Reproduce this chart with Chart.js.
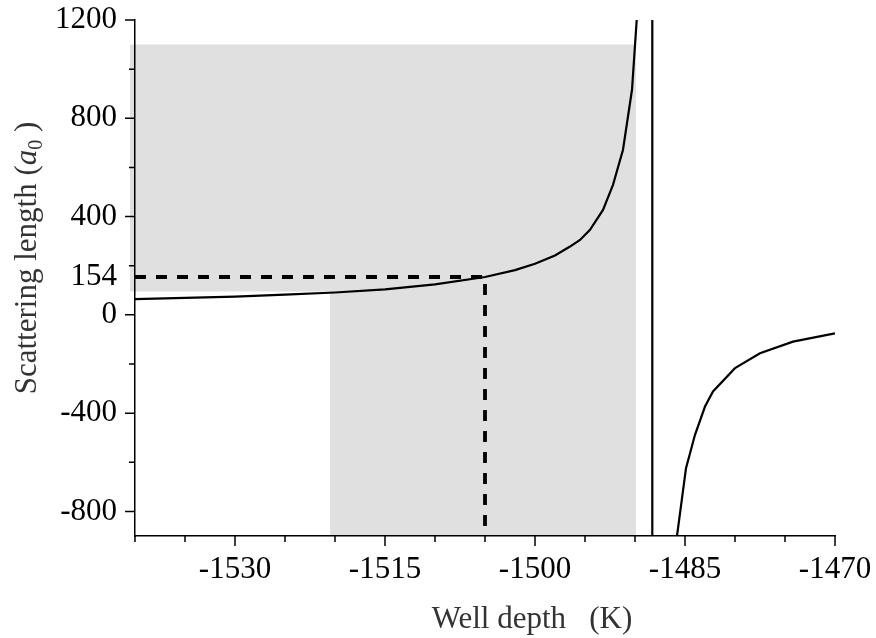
<!DOCTYPE html>
<html>
<head>
<meta charset="utf-8">
<script src="https://cdn.jsdelivr.net/npm/chart.js@4.4.1/dist/chart.umd.min.js"></script>
<style>
  html, body { margin: 0; padding: 0; background: #fff; }
  #wrap { width: 876px; height: 638px; }
</style>
</head>
<body>
<div id="wrap"><canvas id="chart" width="876" height="638"></canvas></div>
<script>
// values (well depth in K, scattering length in a0)
const leftDepth = [-1540, -1535, -1530, -1525, -1520, -1515, -1510, -1505, -1502, -1500, -1498, -1496.5, -1495.5, -1494.5, -1493.2, -1492.2, -1491.2, -1490.3, -1489.83, -1489.6];
const leftLength = [64, 69, 74, 82, 91, 104, 124, 154, 182, 208, 242, 278, 305, 346, 427, 529, 672, 916, 1200, 1450];
const poleDepth = [-1488.27, -1488.27];
const poleLength = [1200, -900];
const rightDepth = [-1485.8, -1484.9, -1484, -1483, -1482.2, -1480, -1477.5, -1474.2, -1470];
const rightLength = [-900, -624, -488, -373, -312, -217, -156, -109, -75];
const markDepth = [-1540, -1505, -1505];
const markLength = [154, 154, -900];
const shadeDepth = [[-1540.5, -1489.9], [-1520.5, -1489.9]];
const shadeLength = [[95, 1100], [-900, 95]];

const xMajorTicks = [-1530, -1515, -1500, -1485, -1470];
const xMinorTicks = [-1540, -1535, -1525, -1520, -1510, -1505, -1495, -1490, -1480, -1475];
const yMajorTicks = [-800, -400, 0, 400, 800, 1200];
const yMinorTicks = [-600, -200, 200, 600, 1000];
const yMarkLabel = 154;

const xTitle = 'Well depth   (K)';
const yTitle = ['Scattering length (', 'a', '0', ' )'];

const FONT = "'Liberation Serif', 'DejaVu Serif', serif";
const SIZE = 31;
Chart.defaults.font.family = FONT;

function toPoints(xs, ys) {
    return xs.map((v, i) => ({ x: v, y: ys[i] }));
}

// gray regions go under everything, axis lines included
const shading = {
    id: 'shading',
    beforeDraw(chart) {
        const { ctx, scales: { x, y } } = chart;
        ctx.save();
        ctx.fillStyle = '#e0e0e0';
        ctx.beginPath();
        shadeDepth.forEach((d, i) => {
            const x0 = x.getPixelForValue(d[0]), x1 = x.getPixelForValue(d[1]);
            const y0 = y.getPixelForValue(shadeLength[i][1]), y1 = y.getPixelForValue(shadeLength[i][0]);
            ctx.rect(x0, y0, x1 - x0, y1 - y0);
        });
        ctx.fill('nonzero');
        ctx.restore();
    }
};

// tick marks (two lengths) and the axis titles
const decorations = {
    id: 'decorations',
    afterDraw(chart) {
        const { ctx, scales: { x, y } } = chart;
        ctx.save();
        ctx.strokeStyle = '#000';
        ctx.lineWidth = 1.5;
        ctx.beginPath();
        xMajorTicks.forEach(v => { const p = x.getPixelForValue(v); ctx.moveTo(p, x.top); ctx.lineTo(p, x.top + 10); });
        xMinorTicks.forEach(v => { const p = x.getPixelForValue(v); ctx.moveTo(p, x.top); ctx.lineTo(p, x.top + 6); });
        yMajorTicks.forEach(v => { const p = y.getPixelForValue(v); ctx.moveTo(y.right, p); ctx.lineTo(y.right - 10, p); });
        yMinorTicks.forEach(v => { const p = y.getPixelForValue(v); ctx.moveTo(y.right, p); ctx.lineTo(y.right - 6, p); });
        ctx.stroke();

        // x title
        ctx.fillStyle = '#333';
        ctx.font = `${SIZE}px ${FONT}`;
        ctx.textAlign = 'center';
        ctx.textBaseline = 'alphabetic';
        ctx.fillText(xTitle, 532, 628);

        // y title, rotated, with italic a and subscript 0
        const normal = `${SIZE}px ${FONT}`, italic = `italic ${SIZE}px ${FONT}`, small = `20px ${FONT}`;
        const fonts = [normal, italic, small, normal];
        const widths = yTitle.map((t, i) => { ctx.font = fonts[i]; return ctx.measureText(t).width; });
        const total = widths.reduce((a, b) => a + b, 0);
        ctx.translate(36, 258);
        ctx.rotate(-Math.PI / 2);
        ctx.textAlign = 'left';
        let pos = -total / 2;
        yTitle.forEach((t, i) => {
            ctx.font = fonts[i];
            ctx.fillText(t, pos, i === 2 ? 6 : 0);
            pos += widths[i];
        });
        ctx.restore();
    }
};

const lineStyle = { showLine: true, pointRadius: 0, borderColor: '#000', borderWidth: 2.2, fill: false, tension: 0 };

new Chart(document.getElementById('chart'), {
    type: 'scatter',
    data: {
        datasets: [
            { ...lineStyle, data: toPoints(leftDepth, leftLength) },
            { ...lineStyle, data: toPoints(poleDepth, poleLength) },
            { ...lineStyle, data: toPoints(rightDepth, rightLength) },
            { ...lineStyle, data: toPoints(markDepth, markLength), borderWidth: 3.8, borderDash: [11, 10] }
        ]
    },
    options: {
        responsive: false,
        animation: false,
        events: [],
        layout: { padding: { top: 20, right: 41, left: 0, bottom: 0 } },
        plugins: { legend: { display: false }, tooltip: { enabled: false } },
        scales: {
            x: {
                type: 'linear',
                min: -1540,
                max: -1470,
                afterBuildTicks: s => { s.ticks = [...xMajorTicks, ...xMinorTicks].sort((a, b) => a - b).map(v => ({ value: v })); },
                afterFit: s => { s.height = 102; s.paddingLeft = 0; s.paddingRight = 0; },
                grid: { drawOnChartArea: false, tickLength: 10, tickColor: 'rgba(0,0,0,0)' },
                border: { color: '#000', width: 1.5 },
                ticks: {
                    autoSkip: false,
                    maxRotation: 0,
                    padding: 5,
                    color: '#000',
                    font: { size: SIZE },
                    callback: v => xMajorTicks.includes(v) ? String(v) : ''
                }
            },
            y: {
                type: 'linear',
                min: -900,
                max: 1200,
                afterBuildTicks: s => { s.ticks = [...yMajorTicks, ...yMinorTicks, yMarkLabel].sort((a, b) => a - b).map(v => ({ value: v })); },
                afterFit: s => { s.width = 135; s.paddingTop = 0; s.paddingBottom = 0; },
                grid: { drawOnChartArea: false, tickLength: 10, tickColor: 'rgba(0,0,0,0)' },
                border: { color: '#000', width: 1.5 },
                ticks: {
                    autoSkip: false,
                    padding: 8,
                    color: '#000',
                    font: { size: SIZE },
                    callback: v => (yMajorTicks.includes(v) || v === yMarkLabel) ? String(v) : ''
                }
            }
        }
    },
    plugins: [shading, decorations]
});
</script>
</body>
</html>
